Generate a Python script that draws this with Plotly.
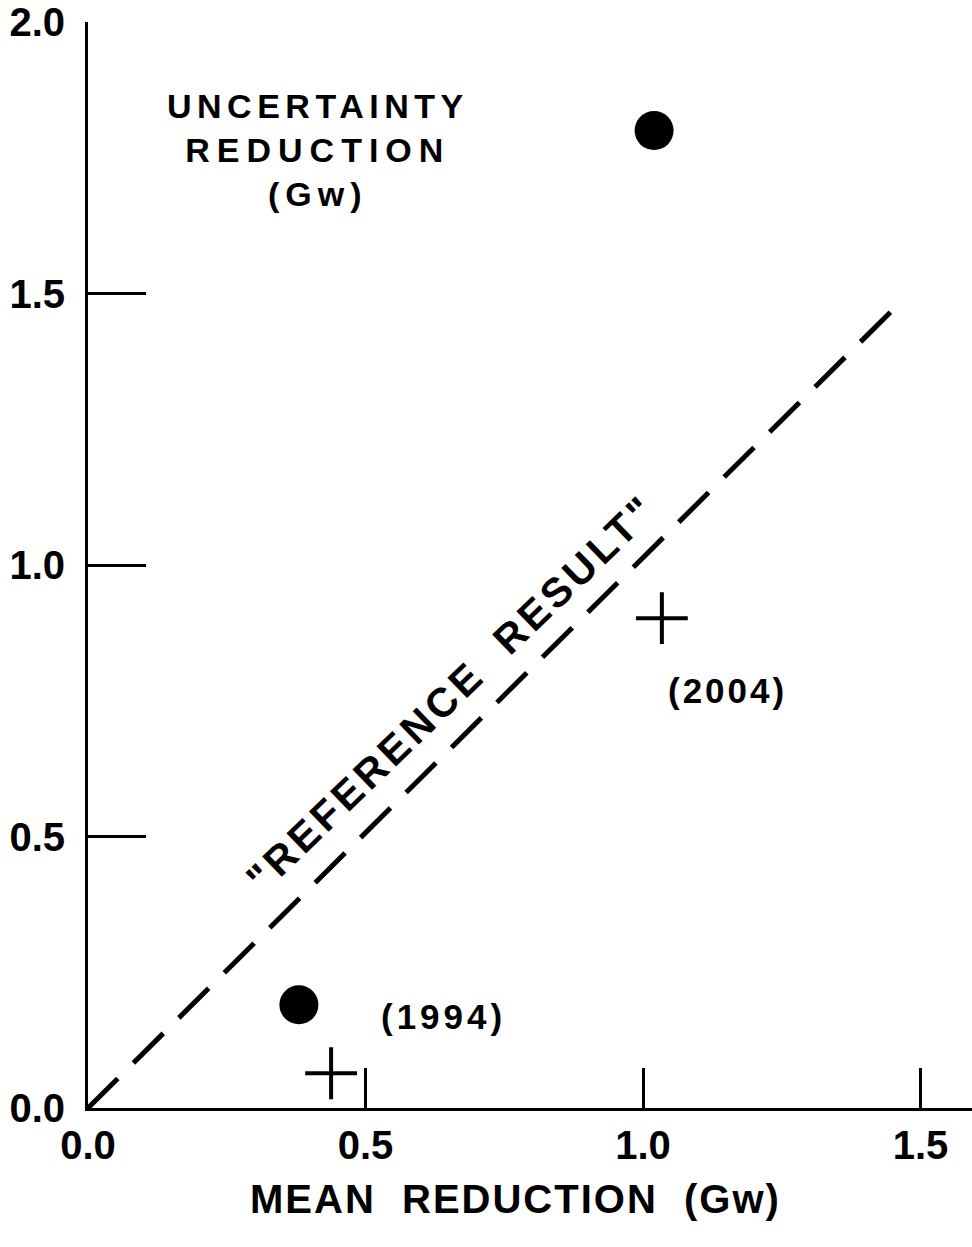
import plotly.graph_objects as go

# Data
circle_x = [0.38, 1.02]
circle_y = [0.19, 1.80]
cross_x = [0.438, 1.034]
cross_y = [0.064, 0.902]
ref_line_x = [0.0, 1.468]
ref_line_y = [0.0, 1.488]
x_ticks = [0.0, 0.5, 1.0, 1.5]
x_tick_labels = ["0.0", "0.5", "1.0", "1.5"]
y_ticks = [0.0, 0.5, 1.0, 1.5, 2.0]
y_tick_labels = ["0.0", "0.5", "1.0", "1.5", "2.0"]

FONT = "Liberation Sans, Arial, Helvetica, sans-serif"
W, H = 972, 1247
ML, MR, MT, MB = 88, 0, 22, 139
PW, PH = W - ML - MR, H - MT - MB


def px(xp):
    return (xp - ML) / PW


def py(yp):
    return (H - MB - yp) / PH


fig = go.Figure()
fig.add_trace(go.Scatter(
    x=ref_line_x, y=ref_line_y, mode="lines",
    line=dict(color="black", width=5, dash="42px,22px"),
    hoverinfo="skip", showlegend=False))
fig.add_trace(go.Scatter(
    x=circle_x, y=circle_y, mode="markers",
    marker=dict(symbol="circle", size=39, color="black"),
    cliponaxis=False, showlegend=False))
fig.add_trace(go.Scatter(
    x=cross_x, y=cross_y, mode="markers",
    marker=dict(symbol="cross-thin", size=37, color="black",
                line=dict(color="black", width=4)),
    cliponaxis=False, showlegend=False))

fig.update_layout(
    width=W, height=H,
    margin=dict(l=ML, r=MR, t=MT, b=MB, pad=0),
    paper_bgcolor="white", plot_bgcolor="white",
    font=dict(family=FONT, color="black", size=38, weight="bold"),
    showlegend=False,
    xaxis=dict(range=[0, PW / 555], tickvals=x_ticks, ticktext=x_tick_labels,
               showgrid=False, zeroline=False, showline=True,
               linecolor="black", linewidth=3, ticks="inside", ticklen=40,
               tickwidth=3, tickcolor="black",
               tickfont=dict(size=40, family=FONT, weight="bold")),
    yaxis=dict(range=[0, 2.0], tickvals=y_ticks, ticktext=y_tick_labels,
               showgrid=False, zeroline=False, showline=True,
               linecolor="black", linewidth=3, ticks="inside", ticklen=58,
               tickwidth=3, tickcolor="black", ticklabelstandoff=12,
               tickfont=dict(size=40, family=FONT, weight="bold")),
)

annotations = [
    dict(text="<span style='letter-spacing:5.5px'>UNCERTAINTY</span><br>"
              "<span style='letter-spacing:7px'>REDUCTION</span><br>"
              "<span style='letter-spacing:6px'>(Gw)</span>",
         x=px(318), y=py(150), font=dict(size=34, weight="bold"),
         align="center"),
    dict(text="<span style='letter-spacing:4px'>(1994)</span>",
         x=px(443), y=py(1016), font=dict(size=35, weight="bold")),
    dict(text="<span style='letter-spacing:3px'>(2004)</span>",
         x=px(727), y=py(690), font=dict(size=35, weight="bold")),
    dict(text="<span style='letter-spacing:4px'>\"REFERENCE  RESULT\"</span>",
         x=px(451), y=py(694), textangle=-44,
         font=dict(size=41, weight="bold")),
    dict(text="<span style='letter-spacing:2px'>MEAN  REDUCTION  (Gw)</span>",
         x=px(515), y=py(1199), font=dict(size=40, weight="bold")),
]
for a in annotations:
    a.update(xref="paper", yref="paper", showarrow=False,
             xanchor="center", yanchor="middle")
    fig.add_annotation(**a)

fig.write_html(
    "out.html",
    config={"displayModeBar": False},
    post_script="document.body.style.margin='0';"
                "document.body.style.overflow='hidden';")
